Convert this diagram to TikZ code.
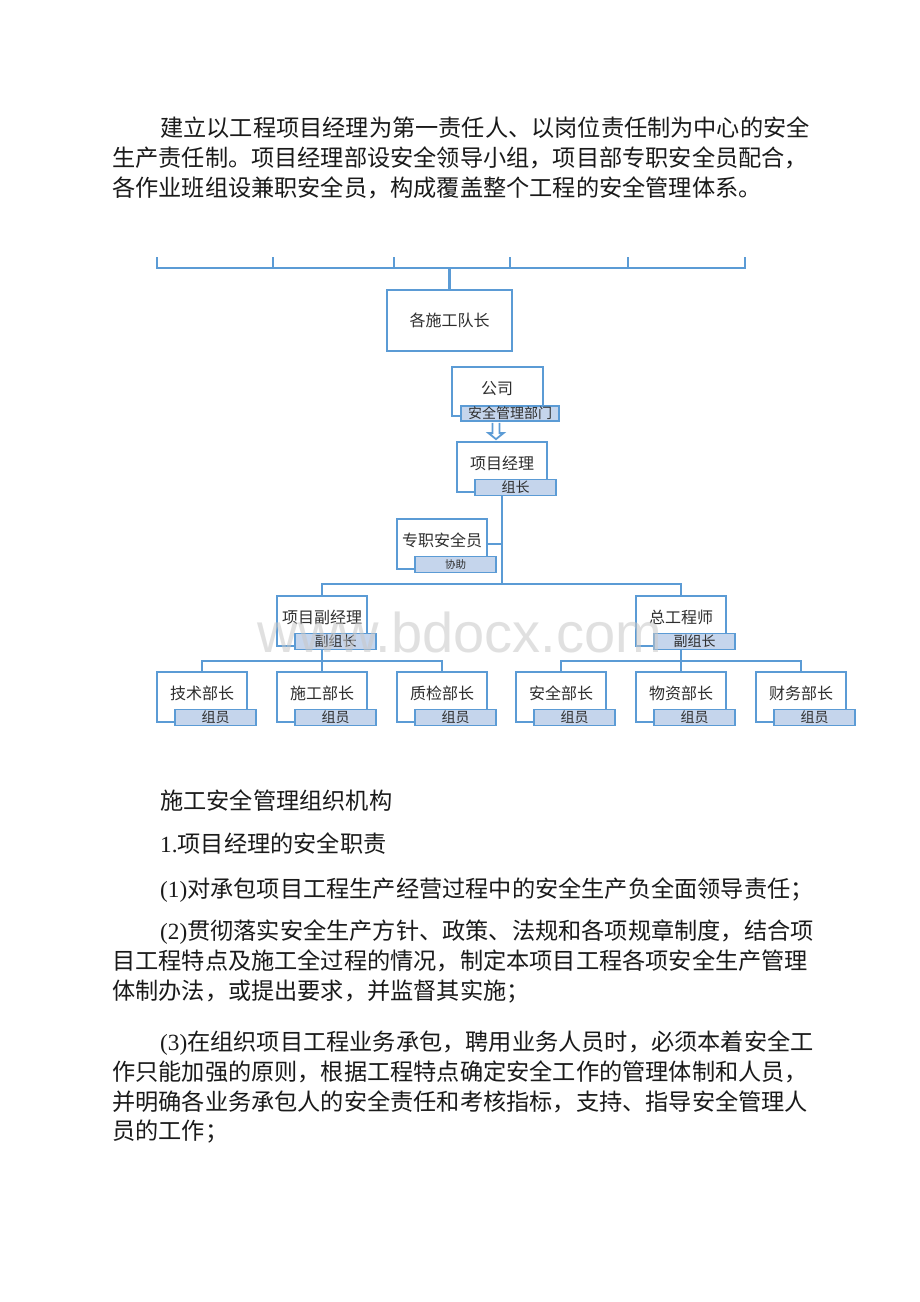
\documentclass[tikz,border=0pt]{standalone}
\usepackage{fontspec}
\setmainfont{Liberation Serif}
\setsansfont{Liberation Sans}
\newfontfamily\cjk{Noto Sans CJK SC}
\XeTeXlinebreaklocale "zh"
\XeTeXlinebreakskip=0pt plus 4pt
\usetikzlibrary{calc}
\pgfdeclarelayer{background}
\pgfsetlayers{background,main}
\definecolor{lineblue}{HTML}{5B9BD5}
\definecolor{tagfill}{HTML}{C5D5EC}
\definecolor{boxtxt}{HTML}{2E2E2E}
\definecolor{bodytxt}{HTML}{1A1A1A}
\definecolor{wmgray}{HTML}{C8C8C8}
\newcommand\jline[2]{\hbox to #1{#2}}
\newcommand\orgbox[5]{%
  \node[box] (#1) at (#2+45,#3+25) {};
  \node[btxt] (#1t) at (#2+45,#3+21) {#4};
  \node[tag] (#1g) at (#2+58.5,#3+45.5) {#5};
}
\tikzset{
  ln/.style={draw=lineblue, line width=2.8pt},
  box/.style={draw=lineblue, line width=2.8pt, fill=white, inner sep=0,
    minimum width=90pt, minimum height=50pt},
  btxt/.style={inner sep=0, text=boxtxt, font=\cjk\fontsize{16}{16}\selectfont},
  tag/.style={draw=lineblue, line width=1.8pt, fill=tagfill, inner sep=0,
    minimum width=81pt, minimum height=16pt, text=boxtxt,
    font=\cjk\fontsize{14}{14}\selectfont},
  body/.style={inner sep=0, anchor=base west, text=bodytxt,
    font=\cjk\fontsize{23.2}{28}\selectfont},
}
\begin{document}
\begin{tikzpicture}[x=1pt,y=-1pt]
\useasboundingbox (0,0) rectangle (920,1302);

% ---------- body text ----------
\node[body] (p1) at (160,136) {\jline{648pt}{建立以工程项目经理为第一责任人、以岗位责任制为中心的安全}};
\node[body] (p2) at (112,166) {\jline{696pt}{生产责任制。项目经理部设安全领导小组，项目部专职安全员配合，}};
\node[body] (p3) at (112,196) {各作业班组设兼职安全员，构成覆盖整个工程的安全管理体系。};

\node[body] (s1) at (160,809) {施工安全管理组织机构};
\node[body] (s2) at (160,852) {{\rmfamily 1.}项目经理的安全职责};
\node[body] (r1) at (160,897) {\jline{648pt}{{\rmfamily (1)}对承包项目工程生产经营过程中的安全生产负全面领导责任；}};
\node[body] (r2a) at (160,939) {\jline{648pt}{{\rmfamily (2)}贯彻落实安全生产方针、政策、法规和各项规章制度，结合项}};
\node[body] (r2b) at (112,969) {\jline{696pt}{目工程特点及施工全过程的情况，制定本项目工程各项安全生产管理}};
\node[body] (r2c) at (112,999) {体制办法，或提出要求，并监督其实施；};
\node[body] (r3a) at (160,1050) {\jline{648pt}{{\rmfamily (3)}在组织项目工程业务承包，聘用业务人员时，必须本着安全工}};
\node[body] (r3b) at (112,1080) {\jline{696pt}{作只能加强的原则，根据工程特点确定安全工作的管理体制和人员，}};
\node[body] (r3c) at (112,1110) {\jline{696pt}{并明确各业务承包人的安全责任和考核指标，支持、指导安全管理人}};
\node[body] (r3d) at (112,1139) {员的工作；};

% ---------- top bracket + 各施工队长 ----------
\node[box, minimum width=125pt, minimum height=61pt, text=boxtxt,
  font=\cjk\fontsize{16}{16}\selectfont] (dz) at (449.5,320.5) {各施工队长};
\coordinate (hbL) at (157,268);
\coordinate (hbR) at (745,268);
\coordinate (t1) at (157,257);
\coordinate (t2) at (273,257);
\coordinate (t3) at (394,257);
\coordinate (t4) at (510,257);
\coordinate (t5) at (628,257);
\coordinate (t6) at (745,257);

% ---------- 公司 ----------
\node[box, minimum width=91pt, minimum height=49pt] (gs) at (497.5,391.5) {};
\node[btxt] (gst) at (497,388.5) {公司};
\node[tag, minimum width=98pt, minimum height=15pt] (gsg) at (510,413.5) {安全管理部门};

% ---------- org boxes ----------
\orgbox{xm}{457}{442}{项目经理}{组长}
\orgbox{zz}{397}{519}{专职安全员}{\fontsize{10.5}{10.5}\selectfont 协助}
\orgbox{fj}{277}{596}{项目副经理}{副组长}
\orgbox{zg}{636}{596}{总工程师}{副组长}
\orgbox{b1}{157}{672}{技术部长}{组员}
\orgbox{b2}{277}{672}{施工部长}{组员}
\orgbox{b3}{397}{672}{质检部长}{组员}
\orgbox{b4}{516}{672}{安全部长}{组员}
\orgbox{b5}{636}{672}{物资部长}{组员}
\orgbox{b6}{756}{672}{财务部长}{组员}

\coordinate (bar) at (502,584);
\coordinate (sb1) at (322,661);
\coordinate (sb2) at (681,661);
\coordinate (ax) at (496,0);

\begin{pgfonlayer}{background}
  \fill[white] (0,0) rectangle (920,1302);
  \draw[ln] (t1) -- (hbL) -- (hbR) -- (t6);
  \foreach \t in {t2,t3,t4,t5} \draw[ln] (\t) -- (\t |- hbL);
  \draw[ln] (dz.north) -- (dz.north |- hbL);
  \draw[ln] (xm.south) -- (bar);
  \draw[ln] (zz.east) -- (zz.east -| xm.south);
  \draw[ln] (fj.north) |- (bar) -| (zg.north);
  \draw[ln] (fj.south) -- (sb1);
  \draw[ln] (b1.north) |- (sb1) -| (b3.north);
  \draw[ln] (sb1) -- (b2.north);
  \draw[ln] (zg.south) -- (zg.south |- sb2);
  \draw[ln] (b4.north) |- (sb2) -| (b6.north);
  \draw[ln] (sb2) -- (b5.north);
\end{pgfonlayer}

% ---------- hollow arrow 公司 -> 项目经理 ----------
\draw[draw=lineblue, line width=1.8pt, fill=white, line join=miter]
  ($(ax |- gsg.south)+(-3.5,0.9)$) -- ($(ax |- xm.north)+(-3.5,-7.5)$)
  -- ($(ax |- xm.north)+(-7.5,-7.5)$) -- ($(ax |- xm.north)+(0,-1.5)$)
  -- ($(ax |- xm.north)+(7.5,-7.5)$) -- ($(ax |- xm.north)+(3.5,-7.5)$)
  -- ($(ax |- gsg.south)+(3.5,0.9)$);

% ---------- watermark ----------
\node[inner sep=0, anchor=base, text=wmgray, opacity=0.55,
  font=\sffamily\fontsize{56}{56}\selectfont] (wm) at (460,652) {www.bdocx.com};
\end{tikzpicture}
\end{document}
